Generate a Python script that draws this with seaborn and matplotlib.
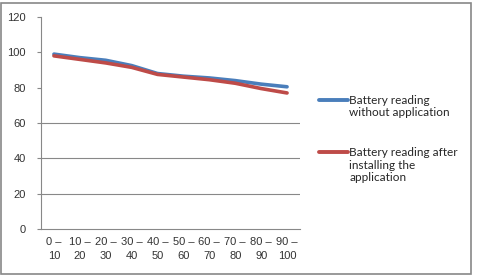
import matplotlib
matplotlib.use("Agg")
import matplotlib.pyplot as plt
import seaborn as sns
import pandas as pd
from matplotlib.patches import Rectangle
from matplotlib.legend_handler import HandlerLine2D

# data
ranges = ["0 –\n10", "10 –\n20", "20 –\n30", "30 –\n40", "40 –\n50",
          "50 –\n60", "60 –\n70", "70 –\n80", "80 –\n90", "90 –\n100"]
without_app = [99, 97, 95.5, 92.5, 88, 86.5, 85.5, 84, 82, 80.5]
with_app = [98, 96, 94, 91.5, 87.5, 86, 84.5, 82.5, 79.5, 77]
labels = ["Battery reading\nwithout application",
          "Battery reading after\ninstalling the\napplication"]


class TopLineHandler(HandlerLine2D):
    # put the legend line next to the first text line, like Excel does
    def __init__(self, extra_lines, **kw):
        super().__init__(**kw)
        self.extra_lines = extra_lines

    def create_artists(self, legend, orig_handle, xdescent, ydescent,
                       width, height, fontsize, trans):
        arts = super().create_artists(legend, orig_handle, xdescent, ydescent,
                                      width, height, fontsize, trans)
        shift = self.extra_lines * 0.5 * fontsize * 1.15
        for a in arts:
            a.set_ydata([y + shift for y in a.get_ydata()])
            a.set_linewidth(2.8)
        return arts


df = pd.DataFrame({
    "pos": list(range(len(ranges))) * 2,
    "value": without_app + with_app,
    "series": [labels[0]] * len(ranges) + [labels[1]] * len(ranges),
})

sns.set_style("white")
fig = plt.figure(figsize=(4.81, 2.76), dpi=100)
ax = fig.add_axes([41 / 481, 1 - 229 / 276, 259 / 481, 212 / 276])

sns.lineplot(data=df, x="pos", y="value", hue="series",
             palette=["#4A7EBB", "#BE4B48"], linewidth=2.6, ax=ax, legend=True)

ax.set_xlim(-0.5, len(ranges) - 0.5)
ax.set_ylim(0, 120)
ax.set_yticks(range(0, 121, 20))
ax.set_xticks(range(len(ranges)))
ax.set_xticklabels(ranges, fontsize=8, color="#333333", family="Liberation Sans",
                   linespacing=1.5)
ax.set_yticklabels([str(v) for v in range(0, 121, 20)], fontsize=8,
                   color="#333333", family="Liberation Sans")
ax.set_xticks([i - 0.5 for i in range(len(ranges) + 1)], minor=True)
ax.tick_params(axis="x", which="major", length=0, pad=6)
ax.tick_params(axis="x", which="minor", length=4, color="#888888", width=0.8)
ax.tick_params(axis="y", length=3, color="#888888", width=0.8, pad=8, left=True)
ax.set_xlabel("")
ax.set_ylabel("")

for s in ["top", "right"]:
    ax.spines[s].set_visible(False)
for s in ["left", "bottom"]:
    ax.spines[s].set_color("#888888")
    ax.spines[s].set_linewidth(0.8)

for v in [20, 40, 60]:
    ax.axhline(v, color="#888888", linewidth=0.8, zorder=0)

ax.get_legend().remove()
handles, lbls = ax.get_legend_handles_labels()
hmap = {h: TopLineHandler(l.count("\n")) for h, l in zip(handles, lbls)}
fig.legend(handles, lbls, loc="upper left", bbox_to_anchor=(308 / 481, 1 - 84 / 276),
           frameon=False, prop={"family": "Lato", "size": 8.5},
           handlelength=2.5, handletextpad=0.1, labelspacing=2.4,
           handler_map=hmap)

fig.add_artist(Rectangle((0.002, 0.008), 470 / 481, 1 - 3 / 276 - 0.008,
                         transform=fig.transFigure, fill=False,
                         edgecolor="#888888", linewidth=1.2))

fig.savefig("out.png", dpi=100)
